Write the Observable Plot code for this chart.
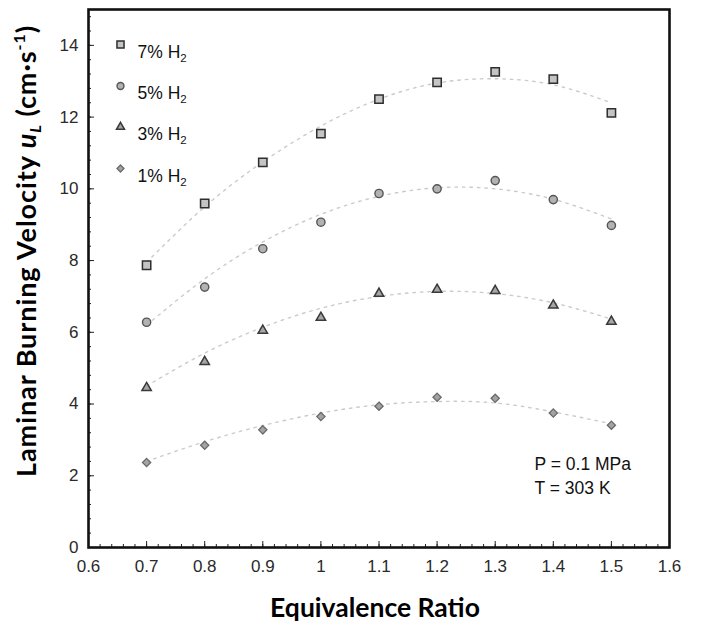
<!DOCTYPE html>
<html><head><meta charset="utf-8">
<script src="https://cdn.jsdelivr.net/npm/d3@7"></script>
<script src="https://cdn.jsdelivr.net/npm/@observablehq/plot@0.6"></script>
<style>body{margin:0;background:#fff}</style>
</head><body><div id="chart"></div>
<script>
// Equivalence ratio (x)
const phi = [0.7, 0.8, 0.9, 1.0, 1.1, 1.2, 1.3, 1.4, 1.5];
// Measured laminar burning velocity (cm/s)
const h7 = [7.87, 9.59, 10.74, 11.54, 12.50, 12.97, 13.26, 13.06, 12.12];
const h5 = [6.28, 7.26, 8.33, 9.07, 9.87, 10.00, 10.23, 9.70, 8.98];
const h3 = [4.45, 5.18, 6.05, 6.41, 7.08, 7.19, 7.16, 6.75, 6.30];
const h1 = [2.37, 2.85, 3.28, 3.65, 3.94, 4.19, 4.16, 3.75, 3.41];
// Dotted trend curves
const fit7 = [7.95, 9.50, 10.75, 11.75, 12.50, 12.95, 13.07, 12.90, 12.40];
const fit5 = [6.20, 7.49, 8.52, 9.29, 9.79, 10.03, 10.00, 9.71, 9.16];
const fit3 = [4.50, 5.42, 6.14, 6.67, 7.00, 7.14, 7.08, 6.82, 6.37];
const fit1 = [2.40, 2.95, 3.40, 3.75, 3.98, 4.07, 4.03, 3.78, 3.45];
// Series names
const seriesNames = ["7% H2", "5% H2", "3% H2", "1% H2"];
// Tick labels
const xTicks = [0.6, 0.7, 0.8, 0.9, 1.0, 1.1, 1.2, 1.3, 1.4, 1.5, 1.6];
const xTickLabels = ["0.6", "0.7", "0.8", "0.9", "1", "1.1", "1.2", "1.3", "1.4", "1.5", "1.6"];
const yTicks = [0, 2, 4, 6, 8, 10, 12, 14];
const yTickLabels = ["0", "2", "4", "6", "8", "10", "12", "14"];
const xMinor = d3.range(0, 51).map(i => +(0.6 + i * 0.02).toFixed(2));
const yMinor = d3.range(0, 38).map(i => +(i * 0.4).toFixed(1));

const styles = [
  {symbol: "square", r: 4.7, fill: "#c4c4c4", stroke: "#2e2e2e", strokeWidth: 1.5},
  {symbol: "circle", r: 4.1, fill: "#b2b2b2", stroke: "#555", strokeWidth: 1.4},
  {symbol: "triangle", r: 3.5, fill: "#a6a6a6", stroke: "#3a3a3a", strokeWidth: 1.5},
  {symbol: "diamond2", r: 3.7, fill: "#a3a3a3", stroke: "#6a6a6a", strokeWidth: 1.3}
];
const measured = [h7, h5, h3, h1];
const fits = [fit7, fit5, fit3, fit1];

const marks = [];
fits.forEach(f => {
  marks.push(Plot.line(phi.map((x, i) => ({x, y: f[i]})), {
    x: "x", y: "y", curve: "natural", stroke: "#cbcbcb", strokeWidth: 1.4, strokeDasharray: "2.5 5"
  }));
});
measured.forEach((m, k) => {
  marks.push(Plot.dot(phi.map((x, i) => ({x, y: m[i]})), {x: "x", y: "y", ...styles[k]}));
});
// legend
const legDy = [35, 76.5, 117.5, 159];
seriesNames.forEach((name, k) => {
  marks.push(Plot.dot([name], {frameAnchor: "top-left", dx: 32, dy: legDy[k], ...styles[k], r: styles[k].r * 0.85}));
  marks.push(Plot.text([name], {frameAnchor: "top-left", dx: 49, dy: legDy[k] + 1, text: d => d, textAnchor: "start",
    fontSize: 17.5, fill: "#111", className: "legtext"}));
});
// annotation
marks.push(Plot.text(["P = 0.1 MPa"], {frameAnchor: "bottom-right", dx: -135, dy: -78, text: d => d, textAnchor: "start", fontSize: 17.5, fill: "#111"}));
marks.push(Plot.text(["T = 303 K"], {frameAnchor: "bottom-right", dx: -135, dy: -54, text: d => d, textAnchor: "start", fontSize: 17.5, fill: "#111"}));
// axes
marks.push(Plot.axisX(xTicks, {tickSize: 0, tickPadding: 12, fontSize: 17, fill: "#2a2a2a", tickFormat: (d, i) => xTickLabels[i], label: null}));
marks.push(Plot.axisX(xMinor, {tickSize: -3, text: null, label: null, stroke: "#222"}));
marks.push(Plot.axisX(xTicks, {tickSize: -6, text: null, label: null, stroke: "#222"}));
marks.push(Plot.axisY(yTicks, {tickSize: 0, tickPadding: 10, fontSize: 17, fill: "#2a2a2a", tickFormat: (d, i) => yTickLabels[i], label: null}));
marks.push(Plot.axisY(yMinor, {tickSize: -3, text: null, label: null, stroke: "#222"}));
marks.push(Plot.axisY(yTicks, {tickSize: -6, text: null, label: null, stroke: "#222"}));
marks.push(Plot.frame({stroke: "#111", strokeWidth: 2.6}));

const chart = Plot.plot({
  width: 702, height: 622,
  marginLeft: 88, marginRight: 33, marginTop: 9, marginBottom: 75,
  style: {fontFamily: "'Liberation Sans', Arial, sans-serif", background: "#fff"},
  x: {domain: [0.6, 1.6]},
  y: {domain: [0, 15]},
  marks
});
document.getElementById("chart").appendChild(chart);

const svg = d3.select(chart);
// subscript 2 in legend labels
svg.selectAll(".legtext text").each(function() {
  const t = d3.select(this);
  const s = t.text();
  t.text("");
  t.append("tspan").text(s.slice(0, -1));
  t.append("tspan").text(s.slice(-1)).attr("font-size", 11.5).attr("dy", 4);
});
// y axis title
const yt = svg.append("text")
  .attr("transform", "translate(36,251) rotate(-90)")
  .attr("text-anchor", "middle")
  .style("font-family", "Lato, 'Open Sans', sans-serif")
  .style("font-weight", "bold").style("font-size", "27px").attr("fill", "#000");
yt.append("tspan").text("Laminar Burning Velocity ");
yt.append("tspan").text("u").style("font-style", "italic");
yt.append("tspan").text("L").style("font-style", "italic").style("font-size", "16px").attr("dy", 5);
yt.append("tspan").text(" (cm·s").attr("dy", -5);
yt.append("tspan").text("-1").style("font-size", "16px").attr("dy", -11);
yt.append("tspan").text(")").attr("dy", 11);
// stretch spacing so the title spans the same length as the original
const targetLen = 452;
const len = yt.node().getComputedTextLength();
if (len < targetLen) {
  const nChars = yt.text().length;
  yt.style("letter-spacing", ((targetLen - len) / nChars) + "px");
}
// x axis title
svg.append("text")
  .attr("x", 375).attr("y", 617)
  .attr("text-anchor", "middle")
  .style("font-family", "Lato, 'Open Sans', sans-serif")
  .style("font-weight", "bold").style("font-size", "26.5px").attr("fill", "#000")
  .text("Equivalence Ratio");
</script>
</body></html>
